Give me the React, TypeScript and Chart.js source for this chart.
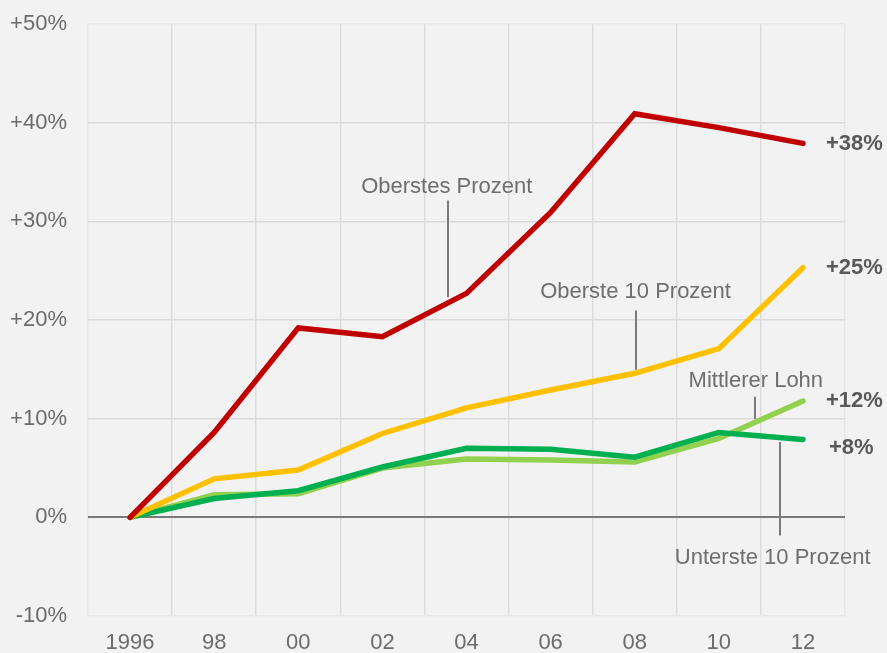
import React, { useEffect, useRef } from "react";
import { Chart, registerables } from "chart.js";

Chart.register(...registerables);

const years = [1996, 1998, 2000, 2002, 2004, 2006, 2008, 2010, 2012];
const oberstesProzent = [0, 8.6, 19.2, 18.3, 22.7, 30.9, 40.9, 39.5, 37.9];
const oberste10 = [0, 3.9, 4.8, 8.5, 11.1, 12.9, 14.6, 17.1, 25.3];
const mittlererLohn = [0, 2.3, 2.4, 5.0, 5.9, 5.8, 5.6, 8.0, 11.8];
const unterste10 = [0, 1.9, 2.7, 5.1, 7.0, 6.9, 6.1, 8.6, 7.9];
const yTicks = [-10, 0, 10, 20, 30, 40, 50];
const endLabels = ["+38%", "+25%", "+8%", "+12%"];
const endLabelValues = [37.8, 25.3, 7.0, 11.8];

const annotations = [
  { text: "Oberstes Prozent", tx: 2003.53, ty: 32.86, lx: 2003.56, y1: 32.1, y2: 22.3 },
  { text: "Oberste 10 Prozent", tx: 2008.02, ty: 22.28, lx: 2008.04, y1: 20.96, y2: 14.95 },
  { text: "Mittlerer Lohn", tx: 2010.88, ty: 13.22, lx: 2010.85, y1: 12.21, y2: 9.97 },
  { text: "Unterste 10 Prozent", tx: 2011.28, ty: -4.78, lx: 2011.45, y1: 7.63, y2: -1.83 },
];

const FONT = "'Liberation Sans', Arial, sans-serif";

const toPoints = (vals: number[]) => vals.map((v, i) => ({ x: years[i], y: v }));

const annotationPlugin = {
  id: "annots",
  afterDatasetsDraw(chart: any) {
    const { ctx, scales } = chart;
    const xs = scales.x;
    const ys = scales.y;
    ctx.save();
    ctx.strokeStyle = "#7a7a7a";
    ctx.lineWidth = 2;
    ctx.fillStyle = "#6e6e6e";
    ctx.font = `22px ${FONT}`;
    ctx.textAlign = "center";
    ctx.textBaseline = "alphabetic";
    annotations.forEach((a) => {
      const lx = Math.round(xs.getPixelForValue(a.lx));
      ctx.beginPath();
      ctx.moveTo(lx, ys.getPixelForValue(a.y1));
      ctx.lineTo(lx, ys.getPixelForValue(a.y2));
      ctx.stroke();
      ctx.fillText(a.text, xs.getPixelForValue(a.tx), ys.getPixelForValue(a.ty));
    });
    ctx.font = `bold 22px ${FONT}`;
    ctx.fillStyle = "#595959";
    ctx.textAlign = "left";
    ctx.textBaseline = "middle";
    const lastX = years[years.length - 1];
    endLabels.forEach((t, i) => {
      const px = xs.getPixelForValue(lastX) + (t === "+8%" ? 26 : 23);
      ctx.fillText(t, px, ys.getPixelForValue(endLabelValues[i]));
    });
    ctx.restore();
  },
};

export default function App() {
  const ref = useRef<HTMLCanvasElement | null>(null);

  useEffect(() => {
    document.body.style.margin = "0";
    document.body.style.background = "#f2f2f2";
    const canvas = ref.current!;
    const chart = new Chart(canvas, {
      type: "line",
      data: {
        datasets: [
          { label: "Oberstes Prozent", data: toPoints(oberstesProzent), borderColor: "#c00000" },
          { label: "Oberste 10 Prozent", data: toPoints(oberste10), borderColor: "#ffc000" },
          { label: "Unterste 10 Prozent", data: toPoints(unterste10), borderColor: "#00b050" },
          { label: "Mittlerer Lohn", data: toPoints(mittlererLohn), borderColor: "#92d050" },
        ].map((d) => ({
          ...d,
          borderWidth: 5.5,
          pointRadius: 0,
          tension: 0,
          fill: false,
          borderCapStyle: "round" as const,
          borderJoinStyle: "miter" as const,
        })),
      },
      options: {
        animation: false,
        responsive: false,
        maintainAspectRatio: false,
        layout: { padding: { top: 24, right: 42, left: 0, bottom: 0 } },
        plugins: { legend: { display: false }, tooltip: { enabled: false } },
        scales: {
          x: {
            type: "linear",
            min: 1995,
            max: 2013,
            afterBuildTicks: (axis: any) => {
              const t = [];
              for (let y = 1995; y <= 2013; y++) t.push({ value: y });
              axis.ticks = t;
            },
            afterFit: (axis: any) => {
              axis.height = 37;
              axis.paddingLeft = 0;
              axis.paddingRight = 0;
            },
            border: { display: false },
            grid: {
              drawTicks: false,
              color: (c: any) => {
                const v = c.tick?.value;
                if (v === 1995 || v === 2013) return "#e6e6e6";
                return v % 2 === 1 ? "#dcdcdc" : "rgba(0,0,0,0)";
              },
              lineWidth: 1.5,
            },
            ticks: {
              autoSkip: false,
              maxRotation: 0,
              padding: 14,
              color: "#6b6b6b",
              font: { family: FONT, size: 22 },
              callback: (v: any) => {
                const n = Number(v);
                if (n % 2 !== 0) return "";
                if (n === 1996) return "1996";
                return String(n % 100).padStart(2, "0");
              },
            },
          },
          y: {
            type: "linear",
            min: -10,
            max: 50,
            afterBuildTicks: (axis: any) => {
              axis.ticks = yTicks.map((v) => ({ value: v }));
            },
            afterFit: (axis: any) => {
              axis.width = 88;
              axis.paddingTop = 0;
              axis.paddingBottom = 0;
            },
            border: { display: false },
            grid: {
              drawTicks: false,
              color: (c: any) => {
                const v = c.tick?.value;
                if (v === 0) return "#7a7a7a";
                if (v === -10 || v === 50) return "#e8e8e8";
                return "#dadada";
              },
              lineWidth: (c: any) => (c.tick?.value === 0 ? 2 : 1.5),
            },
            ticks: {
              padding: 21,
              color: "#6b6b6b",
              font: { family: FONT, size: 22 },
              callback: (v: any) => {
                const n = Number(v);
                return n > 0 ? `+${n}%` : `${n}%`;
              },
            },
          },
        },
      },
      plugins: [annotationPlugin],
    });
    return () => chart.destroy();
  }, []);

  return (
    <div style={{ width: 887, height: 653, background: "#f2f2f2" }}>
      <canvas ref={ref} width={887} height={653} style={{ display: "block" }} />
    </div>
  );
}
